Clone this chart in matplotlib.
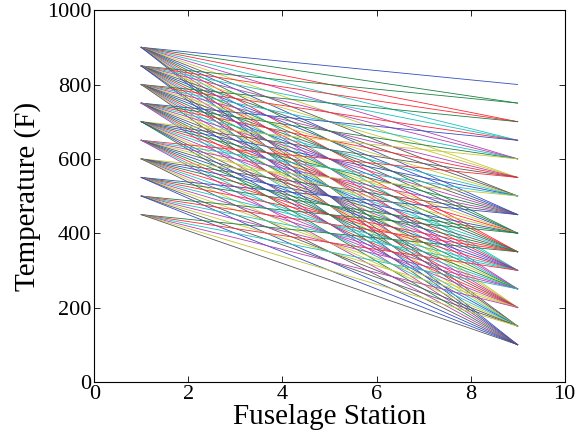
import numpy as np
import matplotlib.pyplot as plt

# temperature at first station (x=1) and last station (x=9)
t_start = [900, 850, 800, 750, 700, 650, 600, 550, 500, 450]
t_end = [800, 750, 700, 650, 600, 550, 500, 450, 400, 350, 300, 250, 200, 150, 100]
stations = [1, 9]
min_drop = 100

# old matlab colour order (a bit muted, as in the printed figure)
colors = [(0.2, 0.3, 0.75), (0.1, 0.5, 0.25), (1, 0.15, 0.2), (0.1, 0.75, 0.75),
          (0.7, 0.25, 0.7), (0.78, 0.78, 0.2), (0.35, 0.35, 0.35)]

plt.rcParams['font.family'] = ['Liberation Serif', 'DejaVu Serif']
fig = plt.figure(figsize=(5.78, 4.42), dpi=100)
ax = fig.add_axes([0.163, 0.136, 0.814, 0.841])

k = 0
for s in t_start:
    for e in t_end:
        if s - e < min_drop:
            continue
        ax.plot(stations, [s, e], color=colors[k % 7], lw=0.6)
        k += 1

ax.set_xlim(0, 10)
ax.set_ylim(0, 1000)
ax.set_xticks([0, 2, 4, 6, 8, 10])
ax.set_yticks([0, 200, 400, 600, 800, 1000])
ax.tick_params(direction='in', length=4, width=0.6, labelsize=16,
               top=True, right=True, pad=2)
for sp in ax.spines.values():
    sp.set_linewidth(0.8)
ax.set_xlabel('Fuselage Station', fontsize=21, labelpad=0)
ax.set_ylabel('Temperature (F)', fontsize=21, labelpad=4)

fig.savefig('out.png', dpi=100)
